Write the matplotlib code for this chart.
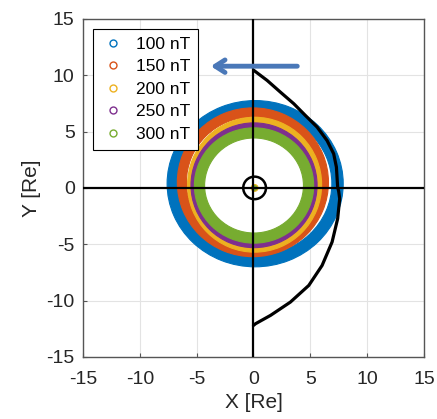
import numpy as np
import matplotlib
matplotlib.use("Agg")
import matplotlib.pyplot as plt
from matplotlib.patches import Annulus, Circle
from matplotlib.lines import Line2D

plt.rcParams['font.family'] = ['Liberation Sans', 'DejaVu Sans']
plt.rcParams['axes.unicode_minus'] = False

# ring data: centre, outer semi-axes, band width (Re)
ring_labels = ['100 nT', '150 nT', '200 nT', '250 nT', '300 nT']
ring_colors = ['#0072BD', '#D95319', '#EDB120', '#7E2F8E', '#77AC30']
ring_cx = [0.15, -0.05, 0.1, 0.05, 0.05]
ring_cy = [0.375, 0.5, 0.285, 0.235, 0.215]
ring_ax = [7.75, 6.65, 5.9, 5.55, 5.25]
ring_ay = [7.375, 6.6, 5.985, 5.535, 5.115]
ring_width = [1.0, 0.8, 0.5, 0.45, 0.9]

# magnetopause trace
mp_x = [0.03, 1.2, 2.37, 3.55, 4.57, 5.6, 6.48, 7.06, 7.3, 7.41, 7.5, 7.59, 7.41,
        6.92, 6.04, 4.87, 3.25, 1.5, 0.18, 0.0]
mp_y = [10.43, 9.54, 8.5, 7.47, 6.43, 5.4, 4.2, 3.03, 1.85, 0.07, -0.3, -0.96, -2.73,
        -4.8, -6.88, -8.65, -10.13, -11.31, -12.05, -12.2]

earth_x, earth_y, earth_r = 0.1, 0.0, 1.0
arrow_tail = (4.1, 10.8)
arrow_head = (-4.0, 10.8)

fig = plt.figure(figsize=(4.37, 4.19), dpi=100)
ax = fig.add_axes([0.19, 0.148, 0.78, 0.807])

for cx, cy, a, b, w, c in zip(ring_cx, ring_cy, ring_ax, ring_ay, ring_width, ring_colors):
    ax.add_patch(Annulus((cx, cy), (a, b), w, facecolor=c, edgecolor=c, lw=0.8, zorder=2))

# small dot at the centre
ax.add_patch(Circle((earth_x, earth_y), 0.3, facecolor='#77AC30', edgecolor='#EDB120', lw=0.8, zorder=3))

ax.axhline(0, color='k', lw=1.6, zorder=4)
ax.axvline(0, color='k', lw=1.6, zorder=4)
ax.add_patch(Circle((earth_x, earth_y), earth_r, fill=False, edgecolor='k', lw=1.8, zorder=5))
ax.plot(mp_x, mp_y, color='k', lw=2.3, zorder=5, solid_capstyle='round', solid_joinstyle='round')

ax.annotate('', xy=arrow_head, xytext=arrow_tail,
            arrowprops=dict(arrowstyle='->,head_length=0.7,head_width=0.45',
                            lw=3.5, color='#4A78B8', capstyle='round'),
            zorder=6)

ax.set_xlim(-15, 15)
ax.set_ylim(-15, 15)
ax.set_xticks([-15, -10, -5, 0, 5, 10, 15])
ax.set_yticks([-15, -10, -5, 0, 5, 10, 15])
ax.grid(True, color='#e3e3e3', lw=0.8, zorder=0)
ax.set_axisbelow(True)
ax.tick_params(direction='in', length=3, labelsize=14, color='#555555', labelcolor='#262626')
ax.tick_params(axis='x', pad=10)
ax.tick_params(axis='y', pad=6)
for s in ax.spines.values():
    s.set_color('#555555')
    s.set_linewidth(1.0)
ax.set_xlabel('X [Re]', fontsize=15, labelpad=4, color='#262626')
ax.set_ylabel('Y [Re]', fontsize=15, labelpad=4, color='#262626')

handles = [Line2D([], [], ls='none', marker='o', markersize=5, markerfacecolor='none',
                  markeredgecolor=c, markeredgewidth=1.0) for c in ring_colors]
leg = ax.legend(handles, ring_labels, loc='upper left', bbox_to_anchor=(0.03, 0.97),
                borderaxespad=0, fontsize=12.5, fancybox=False, framealpha=1,
                handlelength=1.4, handletextpad=0.6, labelspacing=0.42, borderpad=0.45)
leg.get_frame().set_edgecolor('k')
leg.get_frame().set_linewidth(0.8)
leg.set_zorder(7)

fig.savefig('out.png', dpi=100)
